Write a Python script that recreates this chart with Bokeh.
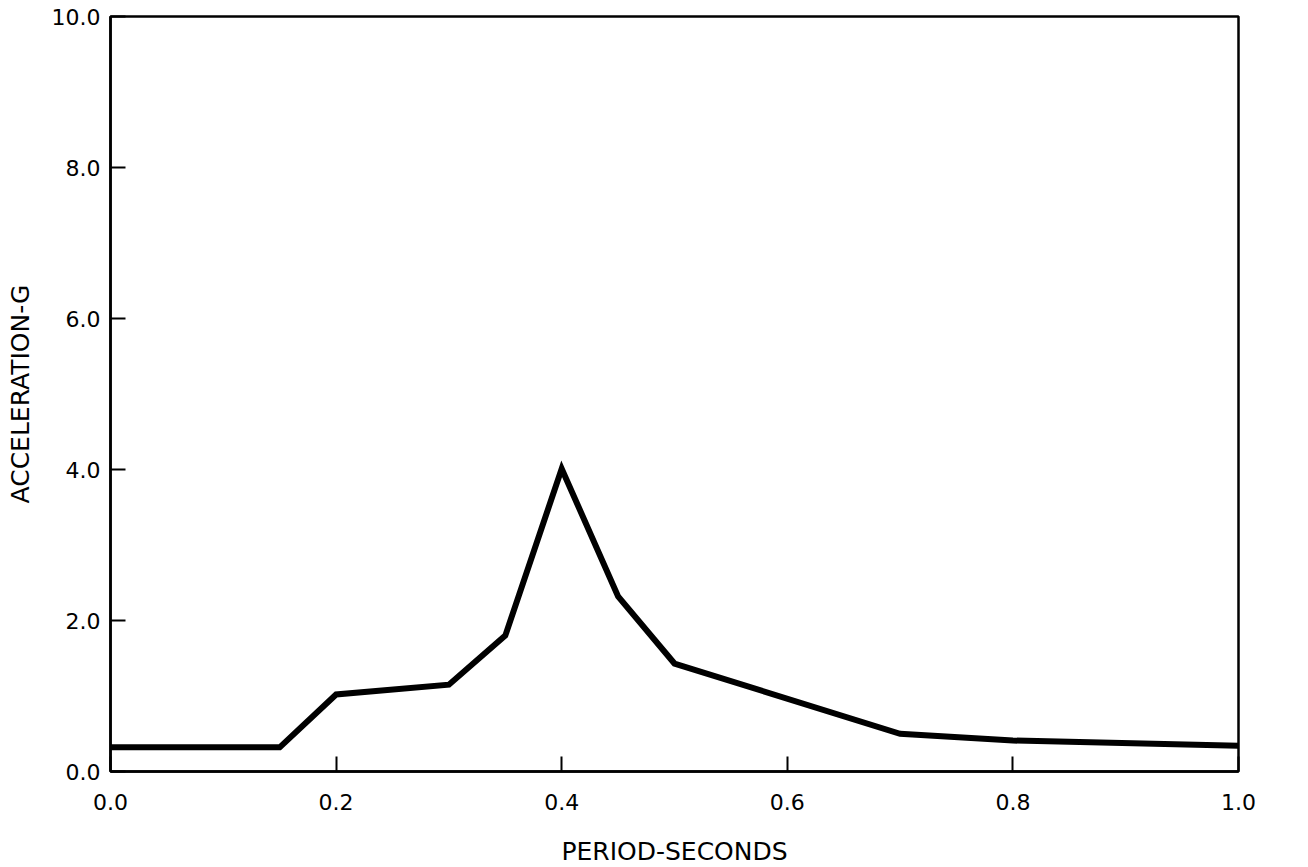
from bokeh.plotting import figure
from bokeh.models import Range1d, FixedTicker
from bokeh.embed import file_html
from bokeh.resources import INLINE

# Data
period = [0.0, 0.15, 0.20, 0.30, 0.35, 0.40, 0.45, 0.50, 0.70, 0.80, 1.00]
accel = [0.32, 0.32, 1.02, 1.15, 1.80, 4.01, 2.32, 1.43, 0.50, 0.41, 0.34]

x_ticks = [0.0, 0.2, 0.4, 0.6, 0.8, 1.0]
x_tick_labels = ["0.0", "0.2", "0.4", "0.6", "0.8", "1.0"]
y_ticks = [0, 2, 4, 6, 8, 10]
y_tick_labels = ["0.0", "2.0", "4.0", "6.0", "8.0", "10.0"]

FONT = "DejaVu Sans"

p = figure(width=1290, height=863, output_backend="svg", toolbar_location=None,
           x_range=Range1d(0, 1), y_range=Range1d(0, 10),
           min_border_left=110, min_border_right=52, min_border_top=16,
           min_border_bottom=92)
p.frame_width = 1128
p.frame_height = 755

p.line(period, accel, line_color="black", line_width=6, line_join="miter")

p.grid.visible = False
p.outline_line_color = "black"
p.outline_line_width = 2.5
p.background_fill_color = "white"
p.border_fill_color = "white"

p.xaxis.ticker = FixedTicker(ticks=x_ticks)
p.xaxis.major_label_overrides = {t: l for t, l in zip(x_ticks, x_tick_labels)}
p.yaxis.ticker = FixedTicker(ticks=y_ticks)
p.yaxis.major_label_overrides = {t: l for t, l in zip(y_ticks, y_tick_labels)}

for ax in (p.xaxis, p.yaxis):
    ax.axis_line_color = "black"
    ax.axis_line_width = 2.5
    ax.major_tick_line_color = "black"
    ax.major_tick_line_width = 2
    ax.major_tick_in = 15
    ax.major_tick_out = 0
    ax.minor_tick_line_color = None
    ax.major_label_text_font = FONT
    ax.major_label_text_font_size = "22px"
    ax.major_label_text_color = "black"
    ax.axis_label_text_font = FONT
    ax.axis_label_text_font_size = "25px"
    ax.axis_label_text_font_style = "normal"
    ax.axis_label_text_color = "black"

p.xaxis.axis_label = "PERIOD-SECONDS"
p.yaxis.axis_label = "ACCELERATION-G"
p.xaxis.major_label_standoff = 22
p.xaxis.axis_label_standoff = 24
p.yaxis.major_label_standoff = 10
p.yaxis.axis_label_standoff = 14

open("out.html", "w").write(file_html(p, INLINE))
